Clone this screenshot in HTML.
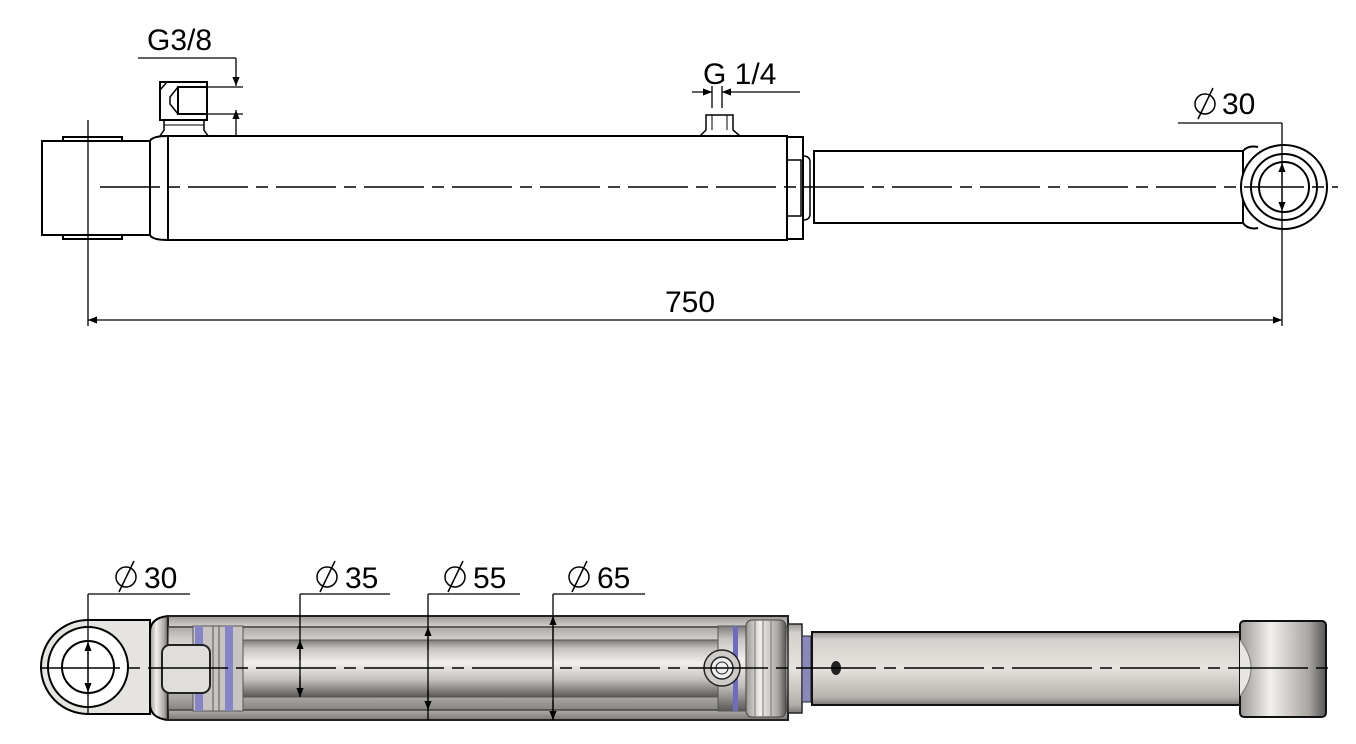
<!DOCTYPE html>
<html><head><style>html,body{margin:0;padding:0;background:#fff}svg{display:block}</style></head><body>
<svg width="1356" height="744" viewBox="0 0 1356 744" xmlns="http://www.w3.org/2000/svg" font-family="Liberation Sans, sans-serif">
<defs>
<linearGradient id="cyl" x1="0" y1="0" x2="0" y2="1">
<stop offset="0" stop-color="#7e7c7a"/><stop offset="0.15" stop-color="#c6c3bf"/><stop offset="0.4" stop-color="#f2f0ed"/><stop offset="0.7" stop-color="#c3c0bc"/><stop offset="1" stop-color="#5a5856"/></linearGradient>
<linearGradient id="bar" x1="0" y1="0" x2="0" y2="1">
<stop offset="0" stop-color="#9a9794"/><stop offset="0.1" stop-color="#d3d0cc"/><stop offset="0.5" stop-color="#e6e3df"/><stop offset="0.9" stop-color="#b4b1ad"/><stop offset="1" stop-color="#7a7774"/></linearGradient>
<linearGradient id="boss" x1="0" y1="0" x2="1" y2="0">
<stop offset="0" stop-color="#9a9794"/><stop offset="0.35" stop-color="#f2f0ed"/><stop offset="0.8" stop-color="#a9a6a2"/><stop offset="1" stop-color="#555"/></linearGradient>
<marker id="ar" viewBox="0 0 10 10" refX="10" refY="5" markerWidth="20" markerHeight="9" markerUnits="userSpaceOnUse" orient="auto-start-reverse"><path d="M0,1 L10,5 L0,9 Z" fill="#000"/></marker>
</defs>

<!-- ============ TOP VIEW ============ -->
<g fill="none" stroke="#000" stroke-width="2">
<rect x="42" y="141" width="108" height="94" fill="#fff"/>
<rect x="63" y="137" width="59" height="4"/>
<rect x="63" y="235" width="59" height="4"/>
<path d="M150,141 Q152,136 168,136 M150,235 Q152,240 168,240"/>
<line x1="150" y1="141" x2="150" y2="235"/>
<rect x="168" y="136" width="619" height="104"/>
<rect x="787" y="137" width="16" height="102"/>
<rect x="787" y="160" width="14" height="56" stroke-width="1.5"/>
<path d="M803,156 Q810,156 810,162 L810,214 Q810,220 803,220" stroke-width="1.5"/>
<rect x="814" y="151" width="429" height="72"/>
<path d="M1243,151 Q1248,145 1258,147 M1243,223 Q1248,230 1258,228"/>
<ellipse cx="1284" cy="187" rx="43" ry="42" fill="#fff"/>
<circle cx="1284" cy="187" r="33"/>
<circle cx="1284" cy="187" r="25"/>
<rect x="160" y="82" width="47" height="38" fill="#fff"/>
<rect x="178" y="87" width="29" height="27"/>
<path d="M178,87 L170,97 L170,104 L178,114 M160,90 L167,82" stroke-width="1.5"/>
<path d="M164,120 L204,120 L204,130 L208,136 L160,136 L164,130 Z" stroke-width="1.5"/>
<line x1="164" y1="125" x2="204" y2="125" stroke-width="1"/>
<path d="M706,115 L733,115 L733,130 L740,136 L700,136 L706,130 Z" stroke-width="1.5"/>
<line x1="712" y1="115" x2="712" y2="130" stroke-width="1"/><line x1="727" y1="115" x2="727" y2="130" stroke-width="1"/>
</g>
<line x1="100" y1="187" x2="1338" y2="187" stroke="#000" stroke-width="1.5" stroke-dasharray="60,8,12,8"/>
<g stroke="#000" stroke-width="1.3" fill="none">
<line x1="138" y1="58" x2="236" y2="58"/>
<line x1="236" y1="58" x2="236" y2="86" marker-end="url(#ar)"/>
<line x1="236" y1="110" x2="236" y2="136" marker-start="url(#ar)"/>
<line x1="207" y1="87" x2="243" y2="87"/><line x1="207" y1="114" x2="243" y2="114"/>
<line x1="692" y1="92" x2="712" y2="92" marker-end="url(#ar)"/>
<line x1="722" y1="92" x2="800" y2="92" marker-start="url(#ar)"/>
<line x1="712" y1="86" x2="712" y2="108"/><line x1="722" y1="86" x2="722" y2="108"/>
<line x1="1178" y1="123" x2="1282" y2="123"/>
<line x1="1282" y1="123" x2="1282" y2="326"/>
<line x1="1282" y1="163" x2="1282" y2="185" marker-start="url(#ar)"/>
<line x1="1282" y1="189" x2="1282" y2="211" marker-end="url(#ar)"/>
<line x1="88" y1="120" x2="88" y2="326"/>
<line x1="88" y1="320" x2="1282" y2="320" marker-start="url(#ar)" marker-end="url(#ar)"/>
</g>
<g font-size="30" fill="#000">
<text x="147" y="50">G3/8</text>
<text x="703" y="84">G 1/4</text>
<text x="1222" y="114">30</text>
<text x="665" y="312">750</text>
</g>
<g stroke="#000" stroke-width="1.5" fill="none"><circle cx="1205" cy="104" r="10"/><line x1="1198" y1="119" x2="1213" y2="88"/></g>

<!-- ============ BOTTOM VIEW ============ -->
<path d="M88,620 L150,620 L150,714 L88,714 A47,47 0 0 1 88,620 Z" fill="#e6e4e1" stroke="#000" stroke-width="2"/>
<circle cx="88" cy="667" r="40" fill="#fff" stroke="#000" stroke-width="2"/>
<circle cx="88" cy="667" r="26" fill="#fff" stroke="#000" stroke-width="2"/>
<path d="M168,616 Q150,618 150,632 L150,704 Q150,718 168,720 Z" fill="url(#boss)" stroke="#000" stroke-width="2"/>
<rect x="168" y="616" width="620" height="104" fill="url(#bar)" stroke="#222" stroke-width="2"/>
<rect x="168" y="626" width="620" height="84" fill="url(#cyl)" opacity="0.5"/>
<line x1="168" y1="627" x2="788" y2="627" stroke="#444" stroke-width="1.5"/>
<line x1="168" y1="710" x2="788" y2="710" stroke="#444" stroke-width="1.5"/>
<rect x="243" y="640" width="475" height="57" fill="url(#cyl)" stroke="#555" stroke-width="1"/>
<rect x="193" y="626" width="50" height="85" fill="#c8c5c1" stroke="#555"/>
<rect x="195" y="626" width="8" height="85" fill="#8585c8"/>
<rect x="225" y="626" width="8" height="85" fill="#8585c8"/>
<line x1="213" y1="626" x2="213" y2="711" stroke="#555"/><line x1="219" y1="626" x2="219" y2="711" stroke="#555"/>
<rect x="162" y="645" width="48" height="48" rx="8" fill="#e0dedb" stroke="#222" stroke-width="2"/>
<rect x="718" y="626" width="70" height="85" fill="url(#cyl)" stroke="#555"/>
<rect x="733" y="626" width="5" height="85" fill="#6c6cc0"/>
<rect x="746" y="620" width="40" height="97" rx="6" fill="url(#boss)" stroke="#444"/>
<line x1="755" y1="620" x2="755" y2="717" stroke="#777"/><line x1="763" y1="620" x2="763" y2="717" stroke="#777"/><line x1="771" y1="620" x2="771" y2="717" stroke="#777"/>
<circle cx="722" cy="668" r="18" fill="#cfccc8" stroke="#222" stroke-width="1.5"/>
<circle cx="722" cy="668" r="11" fill="#eee" stroke="#222" stroke-width="1.5"/>
<circle cx="722" cy="668" r="6" fill="none" stroke="#222"/>
<rect x="788" y="624" width="14" height="89" fill="url(#bar)" stroke="#222" stroke-width="1.5"/>
<rect x="802" y="636" width="9" height="66" fill="#8a88b8" stroke="#222"/>
<rect x="812" y="632" width="431" height="73" fill="url(#bar)" stroke="#111" stroke-width="2"/>
<ellipse cx="836" cy="668" rx="5" ry="7" fill="#222"/>
<rect x="1240" y="621" width="86" height="96" rx="4" fill="url(#boss)" stroke="#111" stroke-width="2"/>
<path d="M1240,640 Q1262,668 1240,696" fill="#e8e6e3" stroke="#777"/>
<line x1="40" y1="668" x2="1336" y2="668" stroke="#000" stroke-width="1.5" stroke-dasharray="80,8,12,8"/>
<g stroke="#000" stroke-width="1.3" fill="none">
<line x1="88" y1="594" x2="190" y2="594"/><line x1="88" y1="594" x2="88" y2="714"/>
<line x1="88" y1="667" x2="88" y2="642" marker-end="url(#ar)"/><line x1="88" y1="667" x2="88" y2="692" marker-end="url(#ar)"/>
<line x1="300" y1="594" x2="390" y2="594"/><line x1="300" y1="594" x2="300" y2="697"/>
<line x1="300" y1="660" x2="300" y2="640" marker-end="url(#ar)"/><line x1="300" y1="676" x2="300" y2="697" marker-end="url(#ar)"/>
<line x1="428" y1="594" x2="520" y2="594"/><line x1="428" y1="594" x2="428" y2="720"/>
<line x1="428" y1="650" x2="428" y2="627" marker-end="url(#ar)"/><line x1="428" y1="690" x2="428" y2="710" marker-end="url(#ar)"/>
<line x1="553" y1="594" x2="645" y2="594"/><line x1="553" y1="594" x2="553" y2="720"/>
<line x1="553" y1="640" x2="553" y2="616" marker-end="url(#ar)"/><line x1="553" y1="700" x2="553" y2="720" marker-end="url(#ar)"/>
</g>
<g font-size="30" fill="#000">
<text x="144" y="588">30</text>
<text x="345" y="588">35</text>
<text x="473" y="588">55</text>
<text x="597" y="588">65</text>
</g>
<g stroke="#000" stroke-width="1.5" fill="none">
<circle cx="126" cy="577" r="10"/><line x1="119" y1="592" x2="134" y2="561"/>
<circle cx="327" cy="577" r="10"/><line x1="320" y1="592" x2="335" y2="561"/>
<circle cx="455" cy="577" r="10"/><line x1="448" y1="592" x2="463" y2="561"/>
<circle cx="579" cy="577" r="10"/><line x1="572" y1="592" x2="587" y2="561"/>
</g>
</svg>
</body></html>
